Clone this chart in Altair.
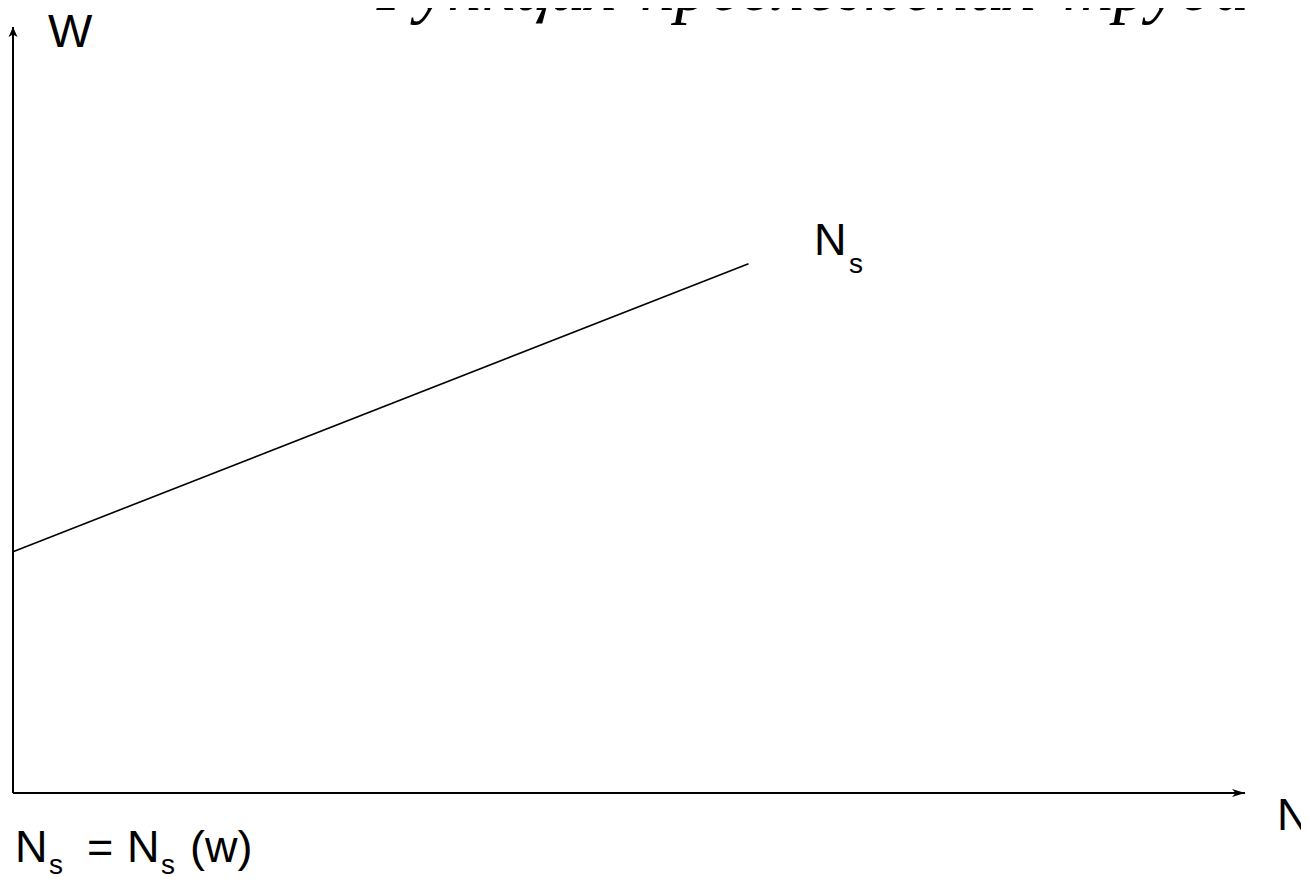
import altair as alt
import pandas as pd

# Axis extents (arrow tips) in chart units: N (labour) horizontally, W (wage) vertically
axis_n = [0, 100]
axis_w = [0, 100]

# Labour supply line N_s
supply_n = [0.0, 59.7]
supply_w = [31.5, 69.1]

# Text annotations (text, n, w, font size)
label_text = ["W", "N", "N", "s", "N", "s", "=", "N", "s", "(w)"]
label_n = [2.84, 102.6, 65.02, 67.86, 0.16, 2.92, 6.01, 9.25, 12.01, 14.37]
label_w = [97.39, -4.83, 70.23, 67.89, -9.01, -10.6, -9.01, -9.01, -10.6, -9.01]
label_size = [47, 45, 45, 28, 45, 28, 45, 45, 28, 45]

title_words = ["Функция", "предложения", "труда"]
title_n = [28.17, 50.89, 85.23]
title_w = [102.2, 102.2, 102.2]

xs = alt.Scale(domain=[axis_n[0], axis_n[1]], nice=False, zero=False)
ys = alt.Scale(domain=[axis_w[0], axis_w[1]], nice=False, zero=False)

axes_df = pd.DataFrame({"n0": [axis_n[0]], "n1": [axis_n[1]], "w0": [axis_w[0]], "w1": [axis_w[1]]})
supply_df = pd.DataFrame({"n": supply_n, "w": supply_w})
labels_df = pd.DataFrame({"text": label_text, "n": label_n, "w": label_w, "size": label_size})
title_df = pd.DataFrame({"text": title_words, "n": title_n, "w": title_w})
arrow_x_df = pd.DataFrame({"n": [axis_n[1]], "w": [axis_w[0]]})
arrow_y_df = pd.DataFrame({"n": [axis_n[0]], "w": [axis_w[1]]})

x_axis = alt.Chart(axes_df).mark_rule(color="black", strokeWidth=2).encode(
    x=alt.X("n0:Q", scale=xs, axis=None),
    x2="n1:Q",
    y=alt.Y("w0:Q", scale=ys, axis=None),
)
y_axis = alt.Chart(axes_df).mark_rule(color="black", strokeWidth=2).encode(
    x=alt.X("n0:Q", scale=xs, axis=None),
    y=alt.Y("w0:Q", scale=ys, axis=None),
    y2="w1:Q",
)

arrow_right = alt.Chart(arrow_x_df).mark_point(
    shape="M-2,-0.62 L0,0 L-2,0.62 L-1.45,0 Z",
    filled=True, color="black", size=169, opacity=1,
).encode(x=alt.X("n:Q", scale=xs, axis=None), y=alt.Y("w:Q", scale=ys, axis=None))

arrow_up = alt.Chart(arrow_y_df).mark_point(
    shape="M-0.9,2 L0,0 L0.9,2 L0,1.5 Z",
    filled=True, color="black", size=100, opacity=1,
).encode(x=alt.X("n:Q", scale=xs, axis=None), y=alt.Y("w:Q", scale=ys, axis=None))

supply = alt.Chart(supply_df).mark_line(color="black", strokeWidth=1.6).encode(
    x=alt.X("n:Q", scale=xs, axis=None),
    y=alt.Y("w:Q", scale=ys, axis=None),
)

labels = alt.Chart(labels_df).mark_text(
    align="left", baseline="alphabetic", font="Liberation Sans", color="black"
).encode(
    x=alt.X("n:Q", scale=xs, axis=None),
    y=alt.Y("w:Q", scale=ys, axis=None),
    text="text:N",
    size=alt.Size("size:Q", scale=None, legend=None),
)

title = alt.Chart(title_df).mark_text(
    align="left", baseline="alphabetic", font="Liberation Serif",
    fontStyle="italic", fontSize=70, color="black",
).encode(
    x=alt.X("n:Q", scale=xs, axis=None),
    y=alt.Y("w:Q", scale=ys, axis=None),
    text="text:N",
)

chart = alt.layer(
    x_axis, y_axis, supply, arrow_right, arrow_up, labels, title
).properties(
    width=1232,
    height=766,
    autosize="none",
    padding={"left": 5, "top": 19, "right": 56, "bottom": 81},
    background="white",
).configure_view(stroke=None)

chart.save("out.html", embed_options={"renderer": "svg", "actions": False})
